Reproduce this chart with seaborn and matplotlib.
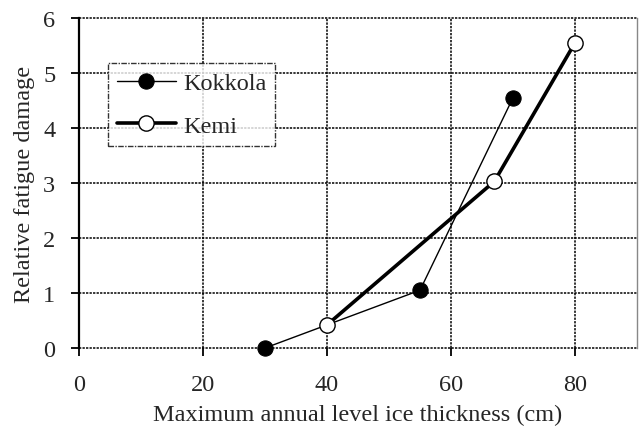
import matplotlib
matplotlib.use("Agg")
import matplotlib.pyplot as plt
import seaborn as sns
import pandas as pd

# Ice thickness (cm) and relative fatigue damage per site
kokkola_thickness = [30, 55, 70]
kokkola_damage = [0.0, 1.05, 4.55]
kemi_thickness = [40, 67, 80]
kemi_damage = [0.42, 3.03, 5.55]

x_ticks = [0, 20, 40, 60, 80]
y_ticks = [0, 1, 2, 3, 4, 5, 6]

df = pd.concat([
    pd.DataFrame({"thickness": kokkola_thickness, "damage": kokkola_damage, "site": "Kokkola"}),
    pd.DataFrame({"thickness": kemi_thickness, "damage": kemi_damage, "site": "Kemi"}),
])

sns.set_style("white")
plt.rcParams["font.family"] = ["Liberation Serif", "DejaVu Serif"]

fig = plt.figure(figsize=(6.44, 4.31), dpi=100)
ax = fig.add_axes([79 / 644, 1 - 349 / 431, (637 - 79) / 644, (349 - 19) / 431])

sns.lineplot(data=df[df.site == "Kokkola"], x="thickness", y="damage", ax=ax,
             color="black", lw=1.0, marker="o", markersize=11,
             markerfacecolor="black", markeredgecolor="black", label="Kokkola",
             sort=False, errorbar=None, clip_on=False, zorder=5)
sns.lineplot(data=df[df.site == "Kemi"], x="thickness", y="damage", ax=ax,
             color="black", lw=2.6, marker="o", markersize=11,
             markerfacecolor="white", markeredgecolor="black", markeredgewidth=1.0,
             label="Kemi", sort=False, errorbar=None, clip_on=False, zorder=5)

ax.set_xlim(0, 90)
ax.set_ylim(0, 6)
ax.set_xticks(x_ticks)
ax.set_yticks(y_ticks)
ax.grid(True, color="black", linestyle=(0, (1.5, 0.8)), linewidth=1.1)
ax.set_axisbelow(True)
for gl in ax.get_xgridlines() + ax.get_ygridlines():
    gl.set_clip_on(False)

for side in ["top", "bottom"]:
    ax.spines[side].set_visible(False)
ax.spines["left"].set_color("black")
ax.spines["left"].set_linewidth(1.6)
ax.spines["left"].set_zorder(3)
ax.spines["right"].set_color("#888888")
ax.spines["right"].set_linewidth(1.0)

ax.tick_params(axis="both", direction="out", length=6, width=1.3, color="black",
               labelsize=17.5, bottom=True, left=True)
ax.tick_params(axis="x", pad=13)
ax.tick_params(axis="y", pad=11)

ax.set_xlabel("Maximum annual level ice thickness (cm)", fontsize=17.5, labelpad=6)
ax.set_ylabel("Relative fatigue damage", fontsize=17.5, labelpad=6)

leg = ax.legend(loc="upper left", bbox_to_anchor=((108 - 79) / 558, (349 - 64) / 330),
                fontsize=17.5, frameon=True, fancybox=False, handlelength=2.4,
                borderpad=0.38, labelspacing=0.85, handletextpad=0.3,
                borderaxespad=0)
leg.get_frame().set_edgecolor("black")
leg.get_frame().set_linewidth(1.0)
leg.get_frame().set_linestyle((0, (4, 1, 1, 1)))
leg.set_zorder(6)

fig.savefig("out.png", dpi=100)
